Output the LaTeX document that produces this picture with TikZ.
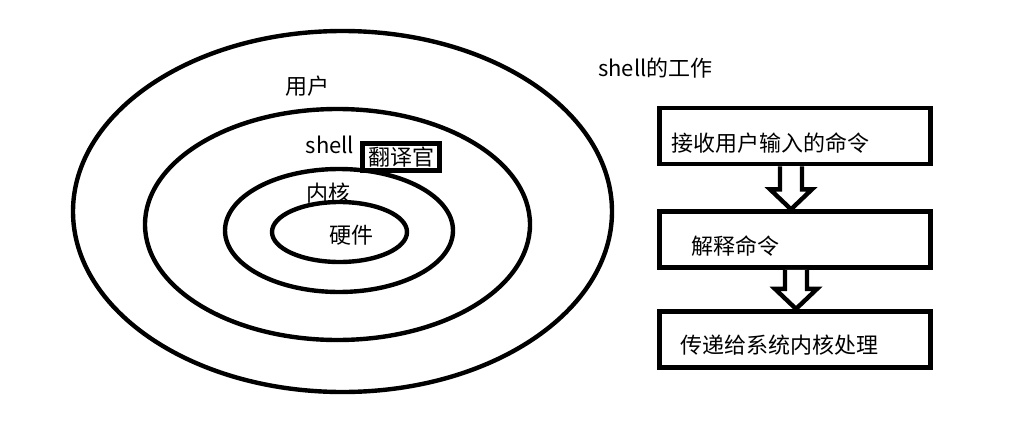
\documentclass[tikz,border=0pt]{standalone}
\usepackage{fontspec}
\setmainfont{Noto Sans CJK SC}
\usetikzlibrary{positioning,calc}

\begin{document}
\begin{tikzpicture}[x=0.5pt, y=-0.5pt,
    every node/.style={font=\fontsize{11}{13}\selectfont},
    ring/.style={line width=2.2pt},
    stepbox/.style={draw, line width=2.3pt, minimum width=135.5pt, minimum height=28pt, inner sep=0pt},
    tagbox/.style={draw, line width=2.5pt, fill=white, minimum width=38.5pt, minimum height=13.5pt, inner sep=0pt},
    hollow/.style={draw, line width=2.2pt, fill=white, line join=miter}]
    \useasboundingbox (0,0) rectangle (1022,423);
    % rings
    \coordinate (user) at (342.5,211.5);
    \coordinate (shellc) at (337.5,224.5);
    \coordinate (kernel) at (339,230.5);
    \coordinate (hw) at (339.5,232);
    \draw[ring] (user) ellipse (269.5 and 180.5);
    \draw[ring] (shellc) ellipse (192.5 and 115.5);
    \draw[ring] (kernel) ellipse (114 and 61.5);
    \draw[ring] (hw) ellipse (67.5 and 30);
    \node (luser) at (307,86) {用户};
    \node (lshell) at (330,145) {shell};
    \node[tagbox] (trans) at (401,157) {翻译官};
    \node (lkernel) at (328,193) {内核};
    \node (lhw) at (351,235) {硬件};
    % steps
    \node (title) at (655.5,68) {shell的工作};
    \node[stepbox] (b1) at (795,136) {};
    \node[stepbox, below=21.5pt of b1] (b2) {};
    \node[stepbox, below=19.5pt of b2] (b3) {};
    \node[anchor=west] (t1) at ($(b1.west)+(7,7)$) {接收用户输入的命令};
    \node[anchor=west] (t2) at ($(b2.west)+(27,6)$) {解释命令};
    \node[anchor=west] (t3) at ($(b3.west)+(16,6)$) {传递给系统内核处理};
    \foreach \a/\b/\dx in {b1/b2/-4, b2/b3/1}
        \draw[hollow] ($(\a.south)+(\dx-11,0)$) -- ($(\b.north)+(\dx-11,-20)$)
            -- ($(\b.north)+(\dx-21,-20)$) -- ($(\b.north)+(\dx,0)$)
            -- ($(\b.north)+(\dx+21,-20)$) -- ($(\b.north)+(\dx+11,-20)$)
            -- ($(\a.south)+(\dx+11,0)$);
\end{tikzpicture}
\end{document}
